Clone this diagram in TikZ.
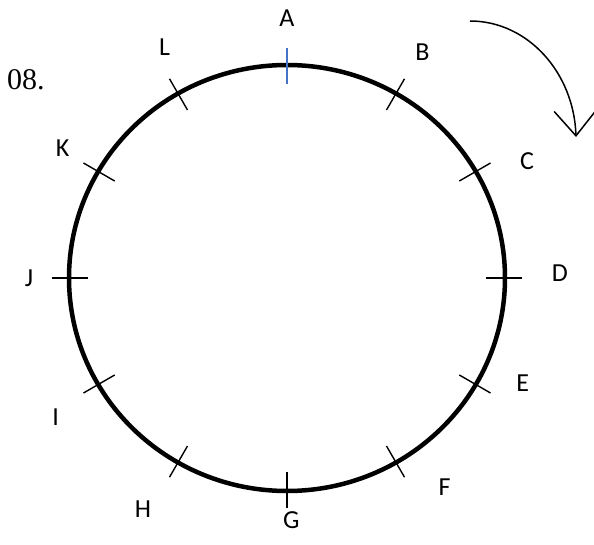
\documentclass[tikz,border=0pt]{standalone}
\usepackage{fontspec}
\setmainfont{Liberation Serif}
\newfontfamily\lblfont{Carlito}
\usetikzlibrary{arrows.meta}
\definecolor{ink}{RGB}{0,0,0}
\definecolor{tickblue}{RGB}{68,114,196}
\tikzset{
  ring/.style={draw=ink,line width=4.5pt},
  tickln/.style={line width=1.4pt},
  lbl/.style={font=\lblfont\fontsize{26}{30}\selectfont,inner sep=0pt},
  turn/.style={draw=ink,line width=1.5pt,-{Straight Barb[length=25pt,width=42pt]}},
}

\begin{document}
\begin{tikzpicture}[x=1pt,y=1pt]
  \useasboundingbox (-287,-266) rectangle (307,278);
  \node[anchor=base west,font=\fontsize{30}{34}\selectfont,inner sep=0pt] (num) at (-280,188) {08.};
  \draw[ring] (0,0) ellipse [x radius=218,y radius=213];
  % ticks and letters, clockwise from the top
  \foreach \a/\b/\r/\t/\c in {90/90/260/A/tickblue,60/59/263/B/ink,30/26/267/C/ink,
      0/1/273/D/ink,-30/-24/258/E/ink,-60/-53/262/F/ink,-90/-89/242/G/ink,
      -120/-122/272/H/ink,-150/-149/270/I/ink,180/180/258/J/ink,
      150/150/259/K/ink,120/118/261/L/ink} {
    \coordinate (o\t) at ({235*cos(\a)},{230*sin(\a)});
    \coordinate (i\t) at ({199*cos(\a)},{194*sin(\a)});
    \draw[tickln,draw=\c] (o\t) -- (i\t);
    \node[lbl] (l\t) at (\b:\r) {\t};
  }
  % direction of travel
  \coordinate (turnS) at (183,257);
  \coordinate (turnE) at (289,141);
  \draw[turn] (turnS) .. controls (241,257) and (287,205) .. (turnE);
\end{tikzpicture}
\end{document}
